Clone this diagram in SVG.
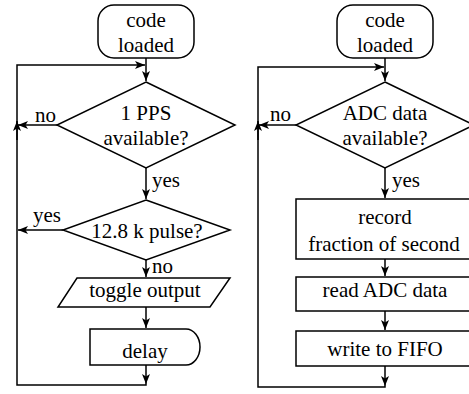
<svg xmlns="http://www.w3.org/2000/svg" width="469" height="394" viewBox="0 0 469 394">
<defs>
<style>
.s{fill:#fff;stroke:#000;stroke-width:1.5}
.c{fill:none;stroke:#000;stroke-width:1.5}
.m{text-anchor:middle}
</style>
<marker id="a" markerUnits="userSpaceOnUse" markerWidth="10" markerHeight="8" viewBox="0 0 10 8" refX="10" refY="4" orient="auto">
<path d="M0,0 L10,4 L0,8 L2.5,4 z" fill="#000"/>
</marker>
</defs>
<rect width="469" height="394" fill="#fff"/>
<g font-family="'Liberation Serif', 'Times New Roman', serif" font-size="21" fill="#000">
<g id="connectors">
<path class="c" d="M146,58 V81" marker-end="url(#a)"/>
<path class="c" d="M146,384 V385 H17 V65 H145" marker-end="url(#a)"/>
<path class="c" d="M17,140 V121" marker-end="url(#a)"/>
<path class="c" d="M57,125 H18" marker-end="url(#a)"/>
<path class="c" d="M146,168 V199" marker-end="url(#a)"/>
<path class="c" d="M63,230 H18" marker-end="url(#a)"/>
<path class="c" d="M146,260 V277" marker-end="url(#a)"/>
<path class="c" d="M146,307 V328" marker-end="url(#a)"/>
<path class="c" d="M146,365 V384" marker-end="url(#a)"/>
<path class="c" d="M385,58 V81" marker-end="url(#a)"/>
<path class="c" d="M385,386 V387 H258 V67 H384" marker-end="url(#a)"/>
<path class="c" d="M258,140 V121" marker-end="url(#a)"/>
<path class="c" d="M296,125 H259" marker-end="url(#a)"/>
<path class="c" d="M385,168 V198" marker-end="url(#a)"/>
<path class="c" d="M385,259 V276" marker-end="url(#a)"/>
<path class="c" d="M385,311 V330" marker-end="url(#a)"/>
<path class="c" d="M385,366 V386" marker-end="url(#a)"/>
<text x="35" y="122">no</text>
<text x="152" y="187">yes</text>
<text x="33" y="222">yes</text>
<text x="152" y="273">no</text>
<text x="270" y="121">no</text>
<text x="392" y="187">yes</text>
</g>
<g id="start1">
<rect class="s" x="98" y="5" width="96" height="53" rx="16" ry="16"/>
<text class="m" x="146" y="27">code</text>
<text class="m" x="146" y="52">loaded</text>
</g>
<g id="pps">
<polygon class="s" points="146,82 235,125 146,168 57,125"/>
<text class="m" x="146" y="120">1 PPS</text>
<text class="m" x="146" y="145">available?</text>
</g>
<g id="pulse">
<polygon class="s" points="146,200 230,230 146,260 63,230"/>
<text class="m" x="147" y="238">12.8 k pulse?</text>
</g>
<g id="toggle">
<polygon class="s" points="77,278 230,278 210,307 58,307"/>
<text class="m" x="145" y="297">toggle output</text>
</g>
<g id="delay">
<path class="s" d="M90,329 H186 A14,18 0 0 1 186,365 H90 Z"/>
<text class="m" x="145" y="358">delay</text>
</g>
<g id="start2">
<rect class="s" x="337" y="5" width="96" height="53" rx="16" ry="16"/>
<text class="m" x="385" y="27">code</text>
<text class="m" x="385" y="52">loaded</text>
</g>
<g id="adc">
<polygon class="s" points="385,82 474,125 385,168 296,125"/>
<text class="m" x="385" y="120">ADC data</text>
<text class="m" x="385" y="145">available?</text>
</g>
<g id="record">
<rect class="s" x="296" y="199" width="180" height="60"/>
<text class="m" x="385" y="224">record</text>
<text class="m" x="384" y="251">fraction of second</text>
</g>
<g id="read">
<rect class="s" x="296" y="277" width="180" height="34"/>
<text class="m" x="385" y="297">read ADC data</text>
</g>
<g id="write">
<rect class="s" x="296" y="331" width="180" height="35"/>
<text class="m" x="385" y="356">write to FIFO</text>
</g>
</g>
</svg>
